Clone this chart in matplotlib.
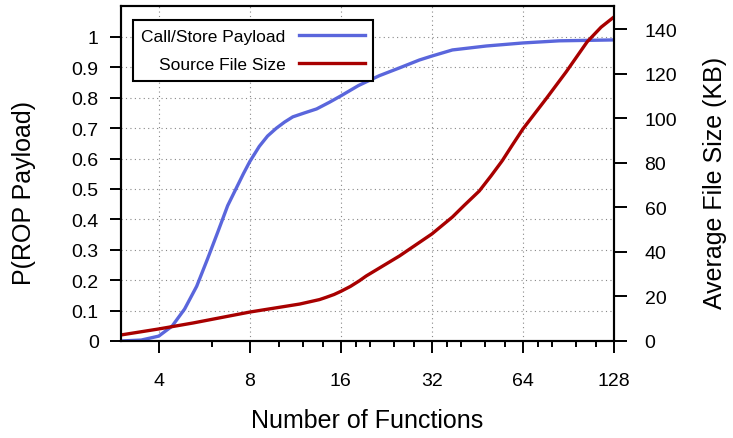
import numpy as np
import matplotlib
matplotlib.use("agg")
import matplotlib.pyplot as plt
from matplotlib.ticker import FixedLocator, NullFormatter

plt.rcParams['font.family'] = ['Liberation Sans', 'DejaVu Sans']

# probability of a call/store payload vs. number of functions
payload_x = [3, 3.5, 4, 4.43, 4.87, 5.34, 5.8, 6.28, 6.76, 7.28, 7.62, 8, 8.6,
             9.16, 9.8, 10.43, 11.1, 12.13, 13.3, 14.67, 16, 18.3, 21.4, 25,
             29.1, 32, 37.4, 48.4, 64, 84.3, 128]
payload_p = [0, 0.003, 0.016, 0.049, 0.105, 0.18, 0.27, 0.36, 0.445, 0.51,
             0.55, 0.59, 0.64, 0.674, 0.70, 0.72, 0.737, 0.75, 0.763, 0.785,
             0.806, 0.84, 0.872, 0.898, 0.924, 0.937, 0.957, 0.97, 0.98,
             0.987, 0.99]

# average source file size (KB)
size_x = [3, 4, 5.2, 8, 11.7, 13.6, 14.3, 15.2, 16, 17.2, 18.4, 19.4, 25, 32,
          37.4, 40.9, 45.9, 50.2, 54.6, 59, 64, 76.3, 88.9, 104.3, 116, 128]
size_kb = [2.7, 5.4, 8.1, 13, 16.6, 18.6, 19.6, 20.9, 22.3, 24.5, 27, 29.2,
           38.2, 48.1, 55.7, 60.9, 67.4, 74.2, 80.9, 88, 95.3, 108.8, 120.9,
           134.4, 141, 145.6]

x_major = [4, 8, 16, 32, 64, 128]
x_minor = [6, 10, 12, 14, 18, 20, 24, 28, 36, 40, 48, 56, 72, 80, 96, 112]
p_ticks = [0, 0.1, 0.2, 0.3, 0.4, 0.5, 0.6, 0.7, 0.8, 0.9, 1]
p_labels = ['0', '0.1', '0.2', '0.3', '0.4', '0.5', '0.6', '0.7', '0.8', '0.9', '1']
kb_ticks = [0, 20, 40, 60, 80, 100, 120, 140]

blue = '#5a66dc'
red = '#a80000'

fig = plt.figure(figsize=(7.33, 4.39), dpi=100)
ax = fig.add_axes([0.165, 0.221, 0.6727, 0.762])
ax2 = ax.twinx()

l1, = ax.plot(payload_x, payload_p, color=blue, lw=2.4, label='Call/Store Payload')
l2, = ax2.plot(size_x, size_kb, color=red, lw=2.4, label='Source File Size')

ax.set_xscale('log', base=2)
ax.set_xlim(3, 128)
ax.set_ylim(0, 1.1)
ax2.set_ylim(0, 150.3)

ax.xaxis.set_major_locator(FixedLocator(x_major))
ax.set_xticklabels([str(v) for v in x_major])
ax.xaxis.set_minor_locator(FixedLocator(x_minor))
ax.xaxis.set_minor_formatter(NullFormatter())
ax.set_yticks(p_ticks)
ax.set_yticklabels(p_labels)
ax.yaxis.set_minor_locator(FixedLocator([]))
ax2.set_yticks(kb_ticks)
ax2.yaxis.set_minor_locator(FixedLocator([]))

ax.grid(True, which='major', color='#888888', linestyle=(0, (1, 3)), lw=0.8)
ax.set_axisbelow(True)

ax.tick_params(axis='x', which='major', direction='out', length=8.5, width=1.4,
               pad=14, labelsize=14, top=False)
ax.tick_params(axis='x', which='minor', direction='out', length=4.3, width=1.4, top=False)
ax.tick_params(axis='y', which='major', direction='out', length=8, width=1.4,
               pad=8, labelsize=14, right=False)
ax2.tick_params(axis='y', which='major', direction='out', length=9, width=1.4,
                pad=13, labelsize=14)
for a in (ax, ax2):
    for s in a.spines.values():
        s.set_linewidth(1.5)

ax.set_xlabel('Number of Functions', fontsize=18)
ax.xaxis.set_label_coords(0.499, -0.2)
ax.set_ylabel('P(ROP Payload)', fontsize=18)
ax.yaxis.set_label_coords(-0.172, 0.446)
ax2.set_ylabel('Average File Size (KB)', fontsize=18)
ax2.yaxis.set_label_coords(1.18, 0.476)

leg = ax2.legend(handles=[l1, l2], loc='upper left', bbox_to_anchor=(0.024, 0.96),
                 borderaxespad=0, markerfirst=False, fancybox=False,
                 edgecolor='black', framealpha=1, fontsize=12.5,
                 handlelength=3.8, handletextpad=0.75, labelspacing=0.75,
                 borderpad=0.5)
leg.get_frame().set_linewidth(1.5)

fig.savefig('out.png', dpi=100)
